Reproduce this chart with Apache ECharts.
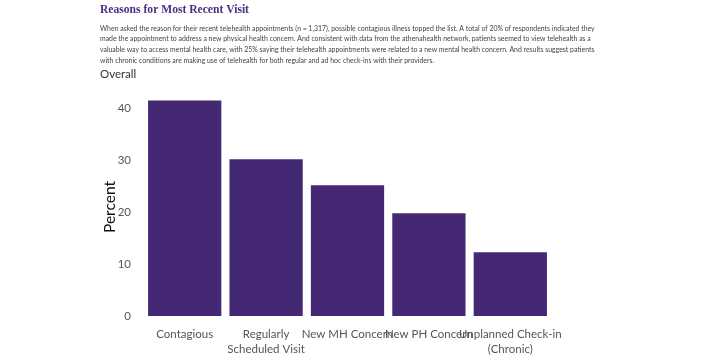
<!DOCTYPE html>
<html><head><meta charset="utf-8">
<script src="https://cdn.jsdelivr.net/npm/echarts@6/dist/echarts.min.js"></script>
<style>html,body{margin:0;padding:0;background:#fff}#c{width:712px;height:363px}</style>
</head><body><div id="c"></div>
<script>
var categories = ['Contagious', 'Regularly\nScheduled Visit', 'New MH Concern', 'New PH Concern', 'Unplanned Check-in\n(Chronic)'];
var values = [41.5, 30.2, 25.2, 19.8, 12.3];
var yTicks = [0, 10, 20, 30, 40];
var titleText = 'Reasons for Most Recent Visit';
var bodyLines = [
  'When asked the reason for their recent telehealth appointments (n = 1,317), possible contagious illness topped the list. A total of 20% of respondents indicated they',
  'made the appointment to address a new physical health concern. And consistent with data from the athenahealth network, patients seemed to view telehealth as a',
  'valuable way to access mental health care, with 25% saying their telehealth appointments were related to a new mental health concern. And results suggest patients',
  'with chronic conditions are making use of telehealth for both regular and ad hoc check-ins with their providers.'
];
var subTitle = 'Overall';

var chart = echarts.init(document.getElementById('c'), null, {renderer: 'canvas'});
var titles = [{
  text: titleText, left: 100, top: 4, padding: 0,
  textStyle: {fontFamily: 'Liberation Serif', fontSize: 11.6, fontWeight: 'bold', color: '#4b2e83'}
}];
bodyLines.forEach(function (l, i) {
  titles.push({text: l, left: 100, top: 25 + i * 10.7, padding: 0,
    textStyle: {fontFamily: 'Lato', fontSize: 6.9, fontWeight: 'normal', color: '#444'}});
});
titles.push({text: subTitle, left: 100, top: 68, padding: 0,
  textStyle: {fontFamily: 'Lato', fontSize: 11.5, fontWeight: 'normal', color: '#333'}});

chart.setOption({
  animation: false,
  title: titles,
  grid: {left: 144, right: 161, top: 98, bottom: 47, containLabel: false},
  xAxis: {
    type: 'category', data: categories,
    axisLine: {show: false}, axisTick: {show: false},
    axisLabel: {interval: 0, margin: 11, fontFamily: 'Lato', fontSize: 11.5, color: '#555', lineHeight: 15}
  },
  yAxis: {
    type: 'value', min: 0, max: 42, interval: 10,
    name: 'Percent', nameLocation: 'middle', nameGap: 26, nameRotate: 90, nameMoveOverlap: false,
    nameTextStyle: {fontFamily: 'Lato', fontSize: 15.5, color: '#111'},
    axisLine: {show: false}, axisTick: {show: false}, splitLine: {show: false},
    axisLabel: {margin: 13, fontFamily: 'Lato', fontSize: 11.5, color: '#555', showMaxLabel: false,
      formatter: function (v) { return yTicks.indexOf(v) >= 0 ? String(v) : ''; }}
  },
  series: [{
    type: 'bar', data: values, barCategoryGap: '10%',
    itemStyle: {color: '#452873'}
  }]
});
</script></body></html>
